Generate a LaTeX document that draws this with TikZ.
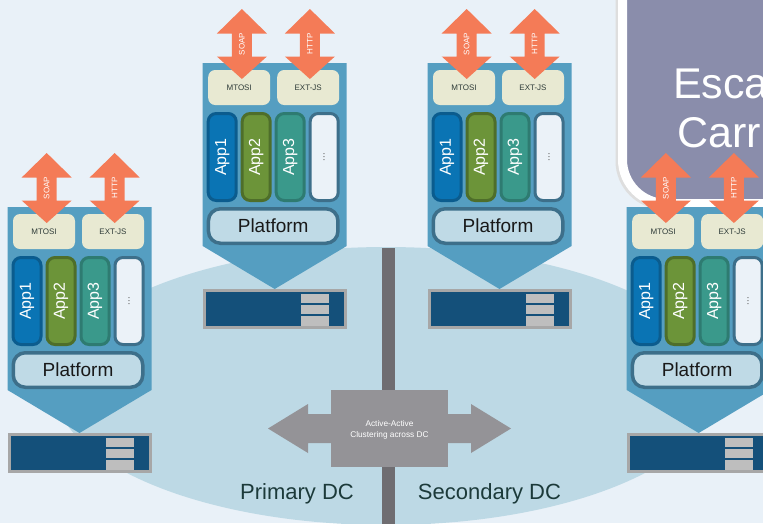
\documentclass[tikz,border=0pt]{standalone}
\usepackage{fontspec}
\setmainfont{Liberation Sans}
\definecolor{bg}{HTML}{E9F1F8}
\definecolor{ell}{HTML}{BDD9E5}
\definecolor{pent}{HTML}{559EC1}
\definecolor{cream}{HTML}{E8E9D2}
\definecolor{aoneF}{HTML}{0A74B4}
\definecolor{aoneD}{HTML}{0B5C8E}
\definecolor{atwoF}{HTML}{6C9439}
\definecolor{atwoD}{HTML}{4E6E2A}
\definecolor{athreeF}{HTML}{3A998B}
\definecolor{athreeD}{HTML}{2E7B71}
\definecolor{dotsF}{HTML}{EBF2F8}
\definecolor{platD}{HTML}{3D6F8A}
\definecolor{platF}{HTML}{BFDAE6}
\definecolor{srvF}{HTML}{14507A}
\definecolor{srvD}{HTML}{A7A7A7}
\definecolor{stripe}{HTML}{BEBEBE}
\definecolor{orng}{HTML}{F47B57}
\definecolor{barc}{HTML}{6F6D71}
\definecolor{garrow}{HTML}{949397}
\definecolor{callF}{HTML}{8A8DAB}
\definecolor{dctext}{HTML}{1C3A3A}
\definecolor{smalltext}{HTML}{2E3B38}
\tikzset{
  creambox/.style={fill=cream, rounded corners=7pt, minimum width=62pt, minimum height=35pt, inner sep=0pt,
    text=smalltext, font=\fontsize{8}{9}\selectfont},
  appbox/.style={line width=3pt, rounded corners=8pt, minimum width=28pt, minimum height=87pt, inner sep=0pt,
    text=white, font=\fontsize{16}{18}\selectfont},
  platbox/.style={draw=platD, fill=platF, line width=3.5pt, rounded corners=12pt, minimum width=129.5pt,
    minimum height=34.5pt, inner sep=0pt, font=\fontsize{19}{21}\selectfont, text=black!90},
  arrowtext/.style={text=white, rotate=90, font=\fontsize{8}{9}\selectfont, inner sep=0pt},
  dclabel/.style={text=dctext, font=\fontsize{22}{24}\selectfont, inner sep=0pt},
}
\newcommand{\orangearrow}[3]{%
  \fill[orng] (#1,-54) -- ++(25,24.5) -- ++(-15,0) -- ++(0,23) -- ++(15,0) -- ++(-25,22.5)
     -- ++(-25,-22.5) -- ++(15,0) -- ++(0,-23) -- ++(-15,0) -- cycle;
  \node[arrowtext] (#2) at (#1,-19) {#3};
}
\newcommand{\dcunit}[3]{%
  \begin{scope}[shift={(#2,#3)}]
    % server
    \draw[fill=srvF, draw=srvD, line width=3pt] (1.5,227.5) rectangle (142.5,264.5);
    \fill[stripe] (98,230.7) rectangle (126,240.3);
    \fill[stripe] (98,242.3) rectangle (126,251.3);
    \fill[stripe] (98,253) rectangle (126,263);
    % pentagon
    \fill[pent] (0,0) -- (144,0) -- (144,183) -- (72,226) -- (0,183) -- cycle;
    % interface boxes
    \node[creambox] (#1mtosi) at (36.5,24.5) {MTOSI};
    \node[creambox] (#1extjs) at (105.5,24.5) {EXT-JS};
    % apps
    \node[appbox, draw=aoneD, fill=aoneF] (#1appone) at (19.5,94) {\rotatebox{90}{App1}};
    \node[appbox, draw=atwoD, fill=atwoF] (#1apptwo) at (53.5,94) {\rotatebox{90}{App2}};
    \node[appbox, draw=athreeD, fill=athreeF] (#1appthree) at (87.5,94) {\rotatebox{90}{App3}};
    \node[appbox, draw=platD, fill=dotsF, text=black!65, font=\fontsize{10}{11}\selectfont] (#1appmore) at (121.5,94) {\rotatebox{90}{...}};
    % platform
    \node[platbox] (#1plat) at (70.5,163) {Platform};
    % arrows
    \orangearrow{39.2}{#1soap}{SOAP}
    \orangearrow{107.2}{#1http}{HTTP}
  \end{scope}
}
\begin{document}
\begin{tikzpicture}[x=1pt,y=-1pt]
\useasboundingbox (0,0) rectangle (763,523);
\clip (0,0) rectangle (763,523);
\fill[bg] (0,0) rectangle (763,523);
% data-centre ellipse
\fill[ell] (386,386) ellipse [x radius=332, y radius=139];
% divider bar
\fill[barc] (382,248) rectangle (395,530);
% units
\dcunit{ua}{7.5}{207}
\dcunit{ub}{202.7}{63}
\dcunit{uc}{427.5}{63}
% callout (behind unit 4)
\draw[line width=9pt, black!13, rounded corners=44pt] (620,-60) -- (620,205) -- (900,205) -- (900,-60) -- cycle;
\draw[line width=9pt, white, fill=callF, rounded corners=44pt] (622.5,-60) -- (622.5,203.5) -- (900,203.5) -- (900,-60) -- cycle;
\node[anchor=base west, text=white, inner sep=0pt, font=\fontsize{43}{48}\selectfont] (esca) at (673,98.5) {Esca};
\node[anchor=base west, text=white, inner sep=0pt, font=\fontsize{43}{48}\selectfont] (carr) at (677,147.5) {Carr};
\dcunit{ud}{626.7}{207}
% clustering arrow
\fill[garrow] (268,428.5) -- (308,404) -- (308,414) -- (471,414) -- (471,404) -- (511,428.5)
   -- (471,453) -- (471,443) -- (308,443) -- (308,453) -- cycle;
\fill[garrow] (331,390) rectangle (448,467);
\node[text=white, align=center, inner sep=0pt, font=\fontsize{8.3}{11}\selectfont] (clus) at (389.5,430) {Active-Active\\Clustering across DC};
% DC labels
\node[dclabel, anchor=base] (pdc) at (297,499) {Primary DC};
\node[dclabel, anchor=base] (sdc) at (489.5,499) {Secondary DC};
\end{tikzpicture}
\end{document}
